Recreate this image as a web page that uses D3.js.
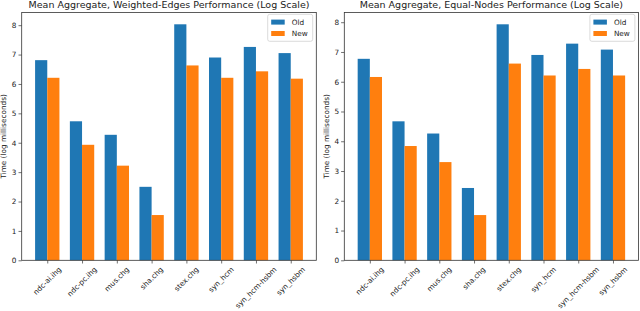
<!DOCTYPE html>
<html>
<head>
<meta charset="utf-8">
<script src="https://cdn.jsdelivr.net/npm/d3@7"></script>
<style>
  body { margin: 0; background: #fff; }
  svg { display: block; font-family: "DejaVu Sans", sans-serif; }
</style>
</head>
<body>
<svg id="chart" width="640" height="311"></svg>
<script>
// datasets on the x axis
let categories = ["ndc-ai.ihg", "ndc-pc.ihg", "mus.chg", "sha.chg", "stex.chg", "syn_hcm", "syn_hcm-hsbm", "syn_hsbm"];
let seriesNames = ["Old", "New"];
let colors = ["#1f77b4", "#ff7f0e"];

// weighted-edges panel (log ms)
let weightedOld = [6.81, 4.73, 4.27, 2.50, 8.03, 6.90, 7.26, 7.05];
let weightedNew = [6.21, 3.93, 3.22, 1.54, 6.63, 6.21, 6.43, 6.18];

// equal-nodes panel (log ms)
let equalOld = [6.77, 4.67, 4.26, 2.43, 7.93, 6.90, 7.28, 7.08];
let equalNew = [6.16, 3.84, 3.30, 1.52, 6.61, 6.21, 6.43, 6.21];

let yTicks = [0, 1, 2, 3, 4, 5, 6, 7, 8];

let svg = d3.select("#chart");
let barW = 0.35;
let fs = 7.3; // tick / label font size

function panel(x0, x1, title, oldVals, newVals) {
  let top = 12.5, bottom = 260.3;
  let n = categories.length;
  let span = (n - 1) + 2 * barW;
  let x = d3.scaleLinear()
      .domain([-barW - 0.05 * span, n - 1 + barW + 0.05 * span])
      .range([x0, x1]);
  let y = d3.scaleLinear()
      .domain([0, d3.max(oldVals.concat(newVals)) * 1.05])
      .range([bottom, top]);

  let g = svg.append("g");

  // bars
  [oldVals, newVals].forEach(function(vals, s) {
    g.append("g").selectAll("rect")
      .data(vals)
      .enter().append("rect")
      .attr("x", function(d, i) { return x(i - barW + s * barW); })
      .attr("width", x(barW) - x(0))
      .attr("y", function(d) { return y(d); })
      .attr("height", function(d) { return y(0) - y(d); })
      .attr("fill", colors[s]);
  });

  // y axis
  let yAxis = g.append("g")
      .attr("transform", "translate(" + x0 + ",0)")
      .call(d3.axisLeft(y).tickValues(yTicks).tickSize(3.2).tickPadding(2).tickFormat(d3.format("d")));
  yAxis.select(".domain").remove();
  yAxis.selectAll("line").attr("stroke", "#333").attr("stroke-width", 0.7);
  yAxis.selectAll("text").attr("font-size", fs + "px").attr("fill", "#222").attr("font-family", "DejaVu Sans");

  // x axis ticks
  let xAxis = g.append("g")
      .attr("transform", "translate(0," + bottom + ")")
      .call(d3.axisBottom(x).tickValues(d3.range(n)).tickSize(3.2).tickFormat(""));
  xAxis.select(".domain").remove();
  xAxis.selectAll("line").attr("stroke", "#333").attr("stroke-width", 0.7);

  // rotated tick labels, centred on tick like matplotlib rotation=45
  categories.forEach(function(c, i) {
    let t = g.append("text")
        .attr("font-size", fs + "px")
        .attr("fill", "#222")
        .attr("text-anchor", "middle")
        .attr("dominant-baseline", "central")
        .text(c);
    let w = t.node().getComputedTextLength();
    let h = (w + fs * 1.1) * Math.SQRT1_2;
    let cx = x(i), cy = bottom + 5 + h / 2;
    t.attr("transform", "translate(" + cx + "," + cy + ") rotate(-45)");
  });

  // frame
  g.append("rect")
      .attr("x", x0).attr("y", top)
      .attr("width", x1 - x0).attr("height", bottom - top)
      .attr("fill", "none").attr("stroke", "#333").attr("stroke-width", 0.8);

  // title
  g.append("text")
      .attr("x", (x0 + x1) / 2).attr("y", 8.3)
      .attr("text-anchor", "middle")
      .attr("font-size", "9.5px")
      .attr("fill", "#222")
      .text(title);

  // y label
  g.append("text")
      .attr("transform", "translate(" + (x0 - 15.6) + "," + ((top + bottom) / 2) + ") rotate(-90)")
      .attr("text-anchor", "middle")
      .attr("font-size", fs + "px")
      .attr("fill", "#222")
      .text("Time (log milliseconds)");

  // legend
  let lw = 45, lh = 27;
  let lx = x1 - 3.6 - lw, ly = top + 1.8;
  let leg = g.append("g").attr("transform", "translate(" + lx + "," + ly + ")");
  leg.append("rect")
      .attr("width", lw).attr("height", lh).attr("rx", 2)
      .attr("fill", "#fff").attr("fill-opacity", 0.8)
      .attr("stroke", "#ccc").attr("stroke-width", 0.7);
  seriesNames.forEach(function(name, s) {
    leg.append("rect")
        .attr("x", 3.5).attr("y", 5.3 + s * 11.4)
        .attr("width", 13.5).attr("height", 5)
        .attr("fill", colors[s]);
    leg.append("text")
        .attr("x", 24).attr("y", 7.8 + s * 11.4)
        .attr("dominant-baseline", "central")
        .attr("font-size", fs + "px")
        .attr("fill", "#222")
        .text(name);
  });
}

panel(21.7, 316.3, "Mean Aggregate, Weighted-Edges Performance (Log Scale)", weightedOld, weightedNew);
panel(344.3, 638.5, "Mean Aggregate, Equal-Nodes Performance (Log Scale)", equalOld, equalNew);
</script>
</body>
</html>
